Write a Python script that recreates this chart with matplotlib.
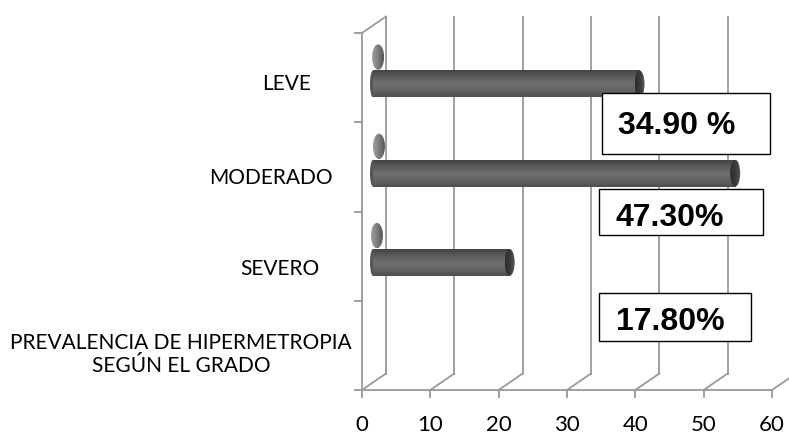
import numpy as np
import matplotlib
matplotlib.use("Agg")
import matplotlib.pyplot as plt
from matplotlib.patches import Ellipse, Rectangle
from matplotlib.colors import LinearSegmentedColormap

# datos
categorias = ["LEVE", "MODERADO", "SEVERO", "PREVALENCIA DE HIPERMETROPIA\nSEGÚN EL GRADO"]
valores = [39, 53, 20]                    # serie principal (cilindros largos)
valores_chicos = [0.349, 0.473, 0.178]    # segunda serie casi nula
etiquetas = ["34.90 %", "47.30%", "17.80%"]
ticks_x = [0, 10, 20, 30, 40, 50, 60]

W, H = 789, 434
PX0, PXU = 362, 410 / 60      # pixel de x=0 y pixeles por unidad
PY0, PYU = 390, 357 / 4       # pixel del piso y pixeles por categoria
DX, DY = 24 / PXU, 16.5 / PYU  # profundidad 3D
GRIS = "#999999"

fig = plt.figure(figsize=(W / 100, H / 100), dpi=100)
ax = fig.add_axes([0, 0, 1, 1])
ax.axis("off")

# pared del fondo y piso
for v in ticks_x:
    ax.plot([v + DX, v + DX], [DY, 4 + DY], color=GRIS, lw=1.3, zorder=1)
    ax.plot([v, v + DX], [0, DY], color=GRIS, lw=1.3, zorder=1)
    ax.plot([v, v], [0, -0.08], color=GRIS, lw=1.3, zorder=1)
    ax.text(v, -0.39, str(v), ha="center", va="center", fontsize=16,
            family="Lato", color="#000000")
ax.plot([0, 60], [0, 0], color=GRIS, lw=1.3, zorder=1)
ax.plot([0, 0], [0, 4], color=GRIS, lw=1.3, zorder=1)
ax.plot([0, DX], [4, 4 + DY], color=GRIS, lw=1.3, zorder=1)
for k in range(5):
    ax.plot([-1.0, 0], [k, k], color=GRIS, lw=1.3, zorder=1)

cmap_cuerpo = LinearSegmentedColormap.from_list(
    "cuerpo", ["#444444", "#5c5c5c", "#707070", "#646464", "#4e4e4e"])
cmap_tapa = LinearSegmentedColormap.from_list(
    "tapa", ["#2e2e2e", "#3a3a3a", "#5a5a5a"])
cmap_chico = LinearSegmentedColormap.from_list(
    "chico", ["#a0a0a0", "#7e7e7e", "#555555"])
grad_v = np.linspace(0, 1, 64).reshape(-1, 1)
grad_h = np.linspace(0, 1, 64).reshape(1, -1)

X0 = 11 / PXU       # inicio de los cilindros
ALTO = 0.30         # grosor del cilindro
CAPW = 10 / PXU     # ancho de la tapa eliptica


def cilindro(x0, largo, yc, alto, z):
    # extremo izquierdo redondeado
    izq = Ellipse((x0, yc), CAPW * 0.6, alto, facecolor="#555555", edgecolor="none", zorder=z)
    ax.add_patch(izq)
    ax.imshow(grad_v, cmap=cmap_cuerpo, aspect="auto", interpolation="bicubic",
              extent=[x0, x0 + largo, yc - alto / 2, yc + alto / 2], zorder=z)
    tapa = Ellipse((x0 + largo, yc), CAPW, alto, facecolor="none", edgecolor="none", zorder=z + 0.5)
    ax.add_patch(tapa)
    im = ax.imshow(grad_h, cmap=cmap_tapa, aspect="auto", interpolation="bicubic",
                   extent=[x0 + largo - CAPW / 2, x0 + largo + CAPW / 2,
                           yc - alto / 2, yc + alto / 2], zorder=z + 0.5)
    im.set_clip_path(tapa)


for i, (v, vc) in enumerate(zip(valores, valores_chicos)):
    base = 3 - i
    # serie pequeña (solo se ve la tapa)
    yc2 = base + 0.73
    xc = X0 + vc + 0.4
    wc, hc = CAPW * 1.2, ALTO * 0.95
    tapa = Ellipse((xc, yc2), wc, hc, facecolor="none", edgecolor="none", zorder=3)
    ax.add_patch(tapa)
    im = ax.imshow(grad_h, cmap=cmap_chico, aspect="auto", interpolation="bicubic",
                   extent=[xc - wc / 2, xc + wc / 2, yc2 - hc / 2, yc2 + hc / 2], zorder=3)
    im.set_clip_path(tapa)
    # serie principal
    cilindro(X0, v, base + 0.43, ALTO, 4)

# etiquetas de categoria
pos_cat = [(-11.1, 3.43), (-13.3, 2.375), (-12.0, 1.356), (-26.5, 0.40)]
for nombre, (x, y) in zip(categorias, pos_cat):
    ax.text(x, y, nombre, ha="center", va="center", multialignment="center",
            fontsize=15, family="Lato", color="#000000", linespacing=1.15)

# cuadros de texto con porcentajes
cajas = [(35.1, 59.7, 2.64, 3.33, 2.96),
         (34.7, 58.7, 1.74, 2.25, 1.93),
         (34.7, 56.9, 0.55, 1.09, 0.76)]
for txt, (xa, xb, ya, yb, yt) in zip(etiquetas, cajas):
    ax.add_patch(Rectangle((xa, ya), xb - xa, yb - ya, facecolor="white",
                           edgecolor="black", lw=1.0, zorder=6))
    ax.text(xa + 2.4, yt, txt, ha="left", va="center", fontsize=23,
            fontweight="bold", family="Liberation Sans", color="black", zorder=7)

ax.set_xlim(-PX0 / PXU, (W - PX0) / PXU)
ax.set_ylim((PY0 - H) / PYU, PY0 / PYU)

fig.savefig("out.png", dpi=100, facecolor="white")
